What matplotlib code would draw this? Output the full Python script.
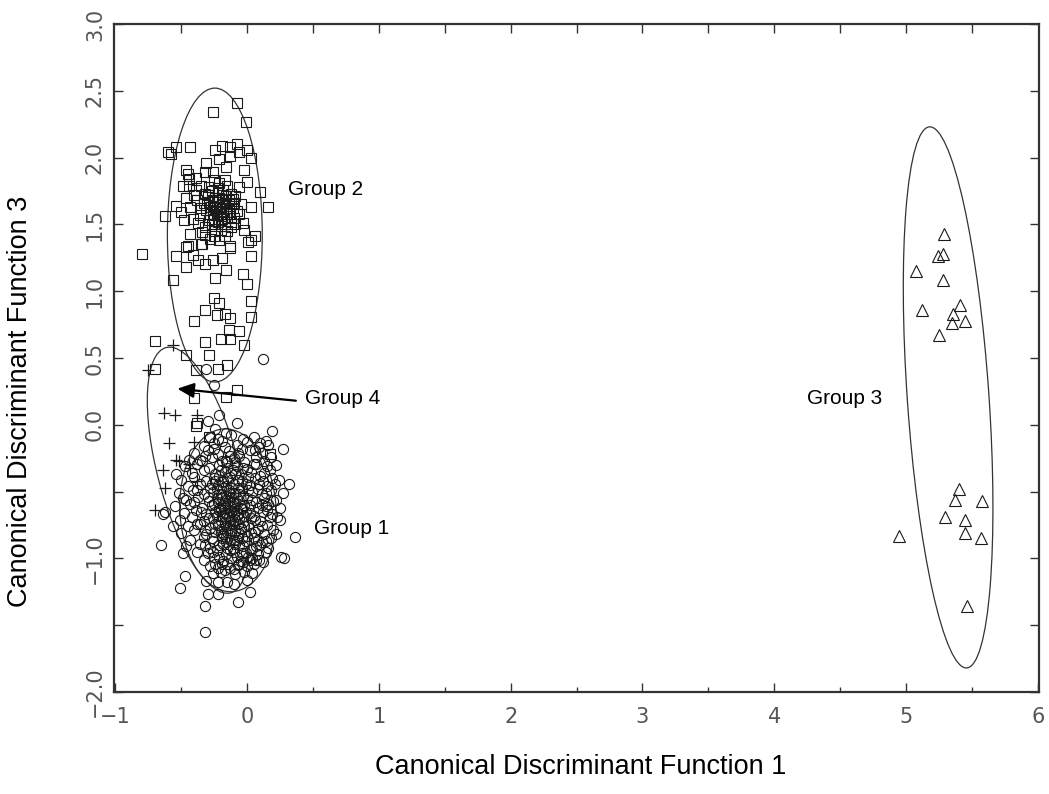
import matplotlib
matplotlib.use("Agg")
import matplotlib.pyplot as plt
from matplotlib.patches import Ellipse

# ---- data ----
# Group 1 (circles)
group1_pts = [
    (-0.31, 0.42), (-0.25, 0.30), (0.12, 0.49), (-0.21, 0.07), (-0.08, 0.01),
    (-0.30, 0.03), (-0.24, -0.03), (-0.16, -0.06), (0.19, -0.05), (0.14, -0.12),
    (0.27, -0.18), (0.06, -0.19), (-0.22, -0.11), (-0.32, -0.23), (-0.36, -0.26),
    (-0.54, -0.37), (0.19, -0.40), (0.32, -0.44), (-0.49, -0.55), (-0.62, -0.65),
    (0.14, -0.61), (0.22, -0.56), (0.23, -0.69), (0.25, -0.71), (0.36, -0.84),
    (0.26, -0.99), (0.28, -1.00), (0.22, -0.82), (0.14, -0.87), (-0.65, -0.90),
    (-0.64, -0.67), (-0.56, -0.76), (-0.49, -0.96), (-0.38, -0.95), (-0.47, -1.13),
    (-0.51, -1.22), (-0.31, -1.17), (-0.22, -1.18), (-0.15, -1.18), (-0.10, -1.19),
    (0.00, -1.16), (0.02, -1.25), (-0.30, -1.27), (-0.22, -1.27), (-0.32, -1.36),
    (-0.07, -1.33), (-0.32, -1.55), (-0.20, -1.10), (0.09, -1.01), (-0.24, -1.04),
    (-0.06, -1.04), (0.02, -1.01),
    # dense core
    (-0.28, -0.09), (-0.19, -0.12), (-0.12, -0.08), (-0.03, -0.11), (0.05, -0.09), (0.10, -0.14),
    (-0.33, -0.16), (-0.25, -0.14), (-0.17, -0.17), (-0.08, -0.15), (0.00, -0.13), (0.09, -0.17),
    (0.16, -0.15), (-0.40, -0.21), (-0.30, -0.19), (-0.22, -0.22), (-0.14, -0.20), (-0.06, -0.23),
    (0.02, -0.19), (0.11, -0.21), (0.18, -0.24), (-0.44, -0.26), (-0.27, -0.24), (-0.19, -0.27),
    (-0.10, -0.25), (-0.02, -0.28), (0.07, -0.24), (0.13, -0.27), (-0.47, -0.31), (-0.38, -0.29),
    (-0.29, -0.32), (-0.21, -0.30), (-0.15, -0.28), (-0.08, -0.31), (0.00, -0.33), (0.05, -0.29),
    (0.15, -0.31), (0.22, -0.30), (-0.42, -0.36), (-0.33, -0.34), (-0.24, -0.37), (-0.17, -0.35),
    (-0.11, -0.34), (-0.05, -0.37), (0.03, -0.35), (0.10, -0.38), (0.17, -0.34), (-0.50, -0.41),
    (-0.40, -0.39), (-0.31, -0.42), (-0.25, -0.40), (-0.19, -0.43), (-0.13, -0.39), (-0.07, -0.41),
    (-0.01, -0.44), (0.06, -0.40), (0.12, -0.42), (0.24, -0.41), (-0.45, -0.46), (-0.36, -0.44),
    (-0.28, -0.47), (-0.22, -0.45), (-0.16, -0.46), (-0.10, -0.44), (-0.04, -0.47), (0.02, -0.45),
    (0.08, -0.48), (0.15, -0.46), (0.21, -0.44), (-0.52, -0.51), (-0.41, -0.49), (-0.33, -0.52),
    (-0.26, -0.50), (-0.20, -0.52), (-0.14, -0.49), (-0.09, -0.51), (-0.03, -0.53), (0.04, -0.50),
    (0.11, -0.52), (0.18, -0.49), (0.27, -0.51), (-0.46, -0.56), (-0.37, -0.54), (-0.29, -0.57),
    (-0.23, -0.55), (-0.17, -0.56), (-0.12, -0.54), (-0.06, -0.57), (0.00, -0.55), (0.07, -0.58),
    (0.13, -0.55), (0.20, -0.57), (-0.55, -0.61), (-0.43, -0.59), (-0.34, -0.62), (-0.27, -0.60),
    (-0.21, -0.62), (-0.15, -0.59), (-0.10, -0.61), (-0.04, -0.63), (0.02, -0.60), (0.08, -0.62),
    (0.16, -0.59), (0.25, -0.62), (-0.48, -0.66), (-0.39, -0.64), (-0.31, -0.67), (-0.24, -0.65),
    (-0.18, -0.66), (-0.13, -0.64), (-0.07, -0.67), (-0.01, -0.65), (0.05, -0.68), (0.12, -0.65),
    (0.19, -0.67), (-0.51, -0.71), (-0.42, -0.69), (-0.33, -0.72), (-0.26, -0.70), (-0.20, -0.72),
    (-0.14, -0.69), (-0.09, -0.71), (-0.03, -0.73), (0.03, -0.70), (0.10, -0.72), (0.17, -0.69),
    (-0.45, -0.76), (-0.36, -0.74), (-0.28, -0.77), (-0.22, -0.75), (-0.16, -0.76), (-0.11, -0.74),
    (-0.05, -0.77), (0.01, -0.75), (0.08, -0.78), (0.15, -0.75), (-0.50, -0.81), (-0.40, -0.79),
    (-0.31, -0.82), (-0.24, -0.80), (-0.18, -0.82), (-0.12, -0.79), (-0.06, -0.81), (0.00, -0.83),
    (0.06, -0.80), (0.13, -0.82), (0.20, -0.79), (-0.43, -0.86), (-0.33, -0.84), (-0.26, -0.87),
    (-0.19, -0.85), (-0.13, -0.86), (-0.07, -0.84), (-0.01, -0.87), (0.05, -0.85), (0.11, -0.88),
    (0.18, -0.85), (-0.46, -0.91), (-0.36, -0.89), (-0.28, -0.92), (-0.21, -0.90), (-0.15, -0.92),
    (-0.09, -0.89), (-0.03, -0.91), (0.04, -0.93), (0.10, -0.90), (0.16, -0.92), (-0.30, -0.96),
    (-0.23, -0.94), (-0.16, -0.97), (-0.10, -0.95), (-0.04, -0.96), (0.02, -0.94), (0.08, -0.97),
    (0.14, -0.95), (-0.33, -1.01), (-0.25, -0.99), (-0.18, -1.02), (-0.12, -1.00), (-0.05, -1.02),
    (0.01, -0.99), (0.07, -1.01), (0.12, -1.03), (-0.28, -1.06), (-0.19, -1.04), (-0.13, -1.07),
    (-0.07, -1.05), (0.00, -1.06), (0.05, -1.04), (-0.26, -1.11), (-0.17, -1.09), (-0.09, -1.12),
    (-0.02, -1.10), (0.04, -1.11),
    (-0.16, -0.53), (-0.11, -0.58), (-0.08, -0.64), (-0.19, -0.68), (-0.13, -0.72), (-0.06, -0.52),
    (-0.17, -0.62), (-0.10, -0.66), (-0.14, -0.77), (-0.08, -0.86), (-0.16, -0.88), (-0.12, -0.47),
    (-0.18, -0.42), (-0.02, -0.68), (-0.22, -0.58), (-0.05, -0.78), (-0.11, -0.93), (-0.20, -0.78),
    (-0.09, -0.37), (-0.15, -0.32),
    (-0.25, -0.18), (-0.13, -0.23), (-0.04, -0.18), (0.07, -0.29), (-0.34, -0.27), (-0.20, -0.34),
    (-0.09, -0.28), (0.01, -0.39), (0.13, -0.36), (-0.27, -0.44), (-0.15, -0.40), (-0.04, -0.42),
    (0.09, -0.44), (-0.38, -0.49), (-0.23, -0.48), (-0.11, -0.51), (0.01, -0.49), (0.14, -0.51),
    (-0.30, -0.54), (-0.19, -0.55), (-0.08, -0.55), (0.04, -0.56), (-0.40, -0.58), (-0.25, -0.59),
    (-0.13, -0.61), (-0.02, -0.60), (0.11, -0.60), (-0.35, -0.65), (-0.21, -0.64), (-0.10, -0.63),
    (0.02, -0.66), (0.15, -0.64), (-0.29, -0.70), (-0.17, -0.70), (-0.06, -0.70), (0.06, -0.71),
    (-0.38, -0.74), (-0.24, -0.74), (-0.13, -0.75), (-0.02, -0.76), (0.11, -0.76), (-0.32, -0.79),
    (-0.20, -0.80), (-0.09, -0.80), (0.03, -0.81), (-0.27, -0.85), (-0.16, -0.84), (-0.04, -0.85),
    (0.08, -0.86), (-0.32, -0.90), (-0.18, -0.89), (-0.06, -0.90), (0.07, -0.91), (-0.26, -0.95),
    (-0.13, -0.94), (-0.01, -0.96), (-0.21, -0.99), (-0.08, -0.99), (0.04, -1.00), (-0.15, -1.04),
    (-0.03, -1.03), (-0.22, -1.07), (-0.10, -1.08), (-0.14, -0.57), (-0.18, -0.60), (-0.12, -0.65),
    (-0.16, -0.66), (-0.09, -0.59), (-0.20, -0.63), (-0.14, -0.69), (-0.11, -0.72), (-0.17, -0.74),
    (-0.08, -0.68), (-0.23, -0.68), (-0.05, -0.62), (-0.12, -0.81), (-0.19, -0.83), (-0.10, -0.86),
    (-0.15, -0.80), (-0.07, -0.74), (-0.21, -0.52), (-0.14, -0.51), (-0.07, -0.47), (-0.18, -0.47),
    (-0.24, -0.42), (-0.12, -0.36), (-0.21, -0.38), (-0.03, -0.32), (-0.16, -0.27), (-0.07, -0.21),
]

# Group 2 (squares)
group2_pts = [
    (-0.08, 2.41), (-0.26, 2.34), (-0.01, 2.27), (-0.54, 2.08), (-0.60, 2.04), (-0.58, 2.03),
    (-0.43, 2.08), (-0.24, 2.06), (-0.19, 2.09), (-0.13, 2.08), (-0.08, 2.10), (-0.06, 2.04),
    (0.00, 2.06), (0.03, 2.00), (-0.21, 1.99), (-0.13, 2.01), (-0.31, 1.96), (-0.16, 1.93),
    (-0.46, 1.91), (-0.45, 1.88), (-0.02, 1.91), (-0.26, 1.89), (-0.32, 1.89), (0.00, 1.82),
    (-0.44, 1.84), (-0.39, 1.85), (-0.25, 1.83), (-0.17, 1.83), (-0.49, 1.79), (-0.44, 1.79),
    (-0.35, 1.79), (-0.29, 1.78), (-0.06, 1.78), (0.10, 1.74), (-0.40, 1.72), (-0.32, 1.73),
    (-0.46, 1.70), (-0.54, 1.64), (0.03, 1.63), (0.16, 1.63), (-0.05, 1.65), (-0.62, 1.56),
    (-0.50, 1.59), (-0.43, 1.63), (-0.35, 1.62), (-0.48, 1.53), (-0.41, 1.54), (-0.32, 1.48),
    (-0.03, 1.51), (-0.02, 1.46), (-0.43, 1.43), (0.06, 1.41), (0.03, 1.38), (-0.45, 1.34),
    (-0.32, 1.42), (-0.25, 1.41), (-0.17, 1.41), (-0.13, 1.34), (-0.34, 1.35),
    (-0.27, 1.75), (-0.22, 1.74), (-0.18, 1.76), (-0.12, 1.73), (-0.24, 1.70), (-0.19, 1.69),
    (-0.14, 1.68), (-0.29, 1.67), (-0.10, 1.66), (-0.26, 1.64), (-0.21, 1.63), (-0.16, 1.62),
    (-0.23, 1.60), (-0.18, 1.59), (-0.13, 1.58), (-0.28, 1.58), (-0.20, 1.56), (-0.15, 1.55),
    (-0.25, 1.54), (-0.10, 1.55), (-0.22, 1.52), (-0.17, 1.50), (-0.27, 1.50), (-0.12, 1.48),
    (-0.20, 1.46), (-0.24, 1.45), (-0.08, 1.60), (-0.31, 1.61), (-0.36, 1.57), (-0.38, 1.68),
    (-0.09, 1.71), (-0.15, 1.79), (-0.21, 1.81), (-0.30, 1.72), (-0.06, 1.58), (-0.11, 1.62),
    (-0.19, 1.65), (-0.23, 1.67), (-0.16, 1.71), (-0.26, 1.57),
    (-0.24, 1.62), (-0.20, 1.60), (-0.17, 1.66), (-0.21, 1.70), (-0.26, 1.68), (-0.14, 1.64),
    (-0.19, 1.54), (-0.23, 1.57), (-0.28, 1.63), (-0.16, 1.58), (-0.22, 1.77), (-0.12, 1.52),
    (-0.29, 1.53), (-0.33, 1.66), (-0.18, 1.72), (-0.25, 1.50), (-0.11, 1.69), (-0.20, 1.49),
    (-0.15, 1.45), (-0.34, 1.44), (-0.37, 1.51), (-0.39, 1.76), (-0.09, 1.50), (-0.28, 1.39),
    (-0.21, 1.38),
    (-0.80, 1.28), (-0.54, 1.26), (-0.46, 1.33), (-0.41, 1.27), (-0.35, 1.35), (-0.13, 1.32),
    (0.01, 1.37), (0.03, 1.26), (-0.37, 1.23), (-0.32, 1.20), (-0.26, 1.23), (-0.19, 1.25),
    (-0.46, 1.18), (-0.16, 1.16), (-0.03, 1.13), (0.00, 1.05), (-0.56, 1.08), (-0.24, 1.10),
    (0.03, 0.93), (-0.25, 0.95), (-0.21, 0.91), (-0.32, 0.86), (-0.23, 0.82), (-0.17, 0.83),
    (-0.13, 0.80), (0.03, 0.81), (-0.40, 0.78), (-0.14, 0.71), (-0.06, 0.70), (-0.20, 0.64),
    (-0.13, 0.64), (-0.32, 0.62), (-0.02, 0.60), (-0.70, 0.63), (-0.46, 0.52), (-0.29, 0.52),
    (-0.70, 0.42), (-0.39, 0.41), (-0.22, 0.42), (-0.15, 0.45), (-0.08, 0.26), (-0.16, 0.21),
    (-0.40, 0.20), (-0.38, 0.01), (-0.39, -0.01), (-0.29, -0.09), (0.17, -0.22),
]

# Group 3 (triangles)
group3_pts = [
    (5.29, 1.43), (5.24, 1.26), (5.28, 1.28), (5.08, 1.15), (5.28, 1.08), (5.12, 0.86),
    (5.41, 0.90), (5.36, 0.83), (5.35, 0.76), (5.45, 0.78), (5.25, 0.67), (5.40, -0.48),
    (5.37, -0.56), (5.58, -0.57), (5.30, -0.69), (5.45, -0.71), (5.45, -0.81), (5.57, -0.85),
    (4.95, -0.83), (5.46, -1.36),
]

# Group 4 (plus signs)
group4_pts = [
    (-0.56, 0.60), (-0.75, 0.41), (-0.63, 0.09), (-0.55, 0.07), (-0.38, 0.07), (-0.59, -0.14),
    (-0.40, -0.13), (-0.54, -0.26), (-0.52, -0.27), (-0.44, -0.29), (-0.43, -0.32), (-0.64, -0.34),
    (-0.38, -0.42), (-0.62, -0.47), (-0.70, -0.64),
]

# group ellipses: centre x, centre y, width, height, angle (deg)
ellipse_params = [
    (-0.145, -0.64, 0.73, 1.22, 3),
    (-0.245, 1.42, 0.72, 2.20, 0),
    (5.32, 0.205, 0.62, 4.06, 4),
    (-0.37, -0.34, 0.62, 1.90, 15),
]

group_labels = ["Group 1", "Group 2", "Group 3", "Group 4"]
label_pos = [(0.51, -0.78), (0.31, 1.76), (4.25, 0.20), (0.44, 0.20)]
arrow_tip = (-0.53, 0.27)
arrow_tail = (0.37, 0.18)

yticks = [-2.0, -1.5, -1.0, -0.5, 0.0, 0.5, 1.0, 1.5, 2.0, 2.5, 3.0]
ytick_labels = ["\u22122.0", "", "\u22121.0", "", "0.0", "0.5", "1.0", "1.5", "2.0", "2.5", "3.0"]
xticks = [-1, 0, 1, 2, 3, 4, 5, 6]
xtick_labels = ["\u22121", "0", "1", "2", "3", "4", "5", "6"]

plt.rcParams["font.family"] = ["Liberation Sans", "DejaVu Sans"]

fig = plt.figure(figsize=(10.49, 7.94), dpi=100)
ax = fig.add_axes([0.1087, 0.1285, 0.8818, 0.8413])

mk = dict(linestyle="none", markerfacecolor="none", markeredgecolor="#1a1a1a", markeredgewidth=0.8)
ax.plot([p[0] for p in group1_pts], [p[1] for p in group1_pts], marker="o", markersize=7.3, **mk)
ax.plot([p[0] for p in group2_pts], [p[1] for p in group2_pts], marker="s", markersize=6.5, **mk)
ax.plot([p[0] for p in group3_pts], [p[1] for p in group3_pts], marker="^", markersize=8, **mk)
ax.plot([p[0] for p in group4_pts], [p[1] for p in group4_pts], marker="+", markersize=8,
        linestyle="none", color="#1a1a1a", markeredgewidth=0.9)

for cx, cy, w, h, ang in ellipse_params:
    ax.add_patch(Ellipse((cx, cy), w, h, angle=ang, fill=False, edgecolor="#333333", linewidth=0.9))

for lab, (tx, ty) in zip(group_labels, label_pos):
    ax.text(tx, ty, lab, fontsize=15, ha="left", va="center", color="black")

ax.annotate("", xy=arrow_tip, xytext=arrow_tail,
            arrowprops=dict(arrowstyle="-|>,head_length=1.0,head_width=0.45", color="black", lw=1.6,
                            shrinkA=0, shrinkB=0))

ax.set_xlim(-1.01, 6.01)
ax.set_ylim(-2.0, 3.0)

ax.set_xticks(xticks)
ax.set_xticklabels(xtick_labels)
ax.set_xticks([-0.5, 0.5, 1.5, 2.5, 3.5, 4.5, 5.5], minor=True)
ax.set_yticks(yticks)
ax.set_yticklabels(ytick_labels, rotation=90, va="center")

ax.tick_params(axis="x", which="major", direction="in", length=6.5, width=1, color="#333333",
               labelsize=15, labelcolor="#555555", labelfontfamily="DejaVu Sans", pad=11, top=False)
ax.tick_params(axis="x", which="minor", direction="in", length=3.5, width=1, color="#333333", top=False)
ax.tick_params(axis="y", which="major", direction="in", length=6.5, width=1, color="#333333",
               labelsize=15, labelcolor="#555555", labelfontfamily="DejaVu Sans", pad=6.5, right=True)

top = ax.secondary_xaxis("top")
top.set_xticks([-0.5, 0, 0.5, 1, 1.5, 2, 2.5, 3, 3.5, 4, 4.5, 5, 5.5])
top.set_xticklabels([])
top.tick_params(direction="in", length=6.5, width=1, color="#333333")

for s in ax.spines.values():
    s.set_linewidth(1.6)
    s.set_color("#333333")
top.spines["top"].set_visible(False)

ax.set_xlabel("Canonical Discriminant Function 1", fontsize=19.5)
ax.set_ylabel("Canonical Discriminant Function 3", fontsize=19.5)
ax.xaxis.set_label_coords(0.504, -0.112)
ax.xaxis.label.set_va("center")
ax.yaxis.set_label_coords(-0.1016, 0.435)
ax.yaxis.label.set_va("center")

fig.savefig("out.png", dpi=100)
